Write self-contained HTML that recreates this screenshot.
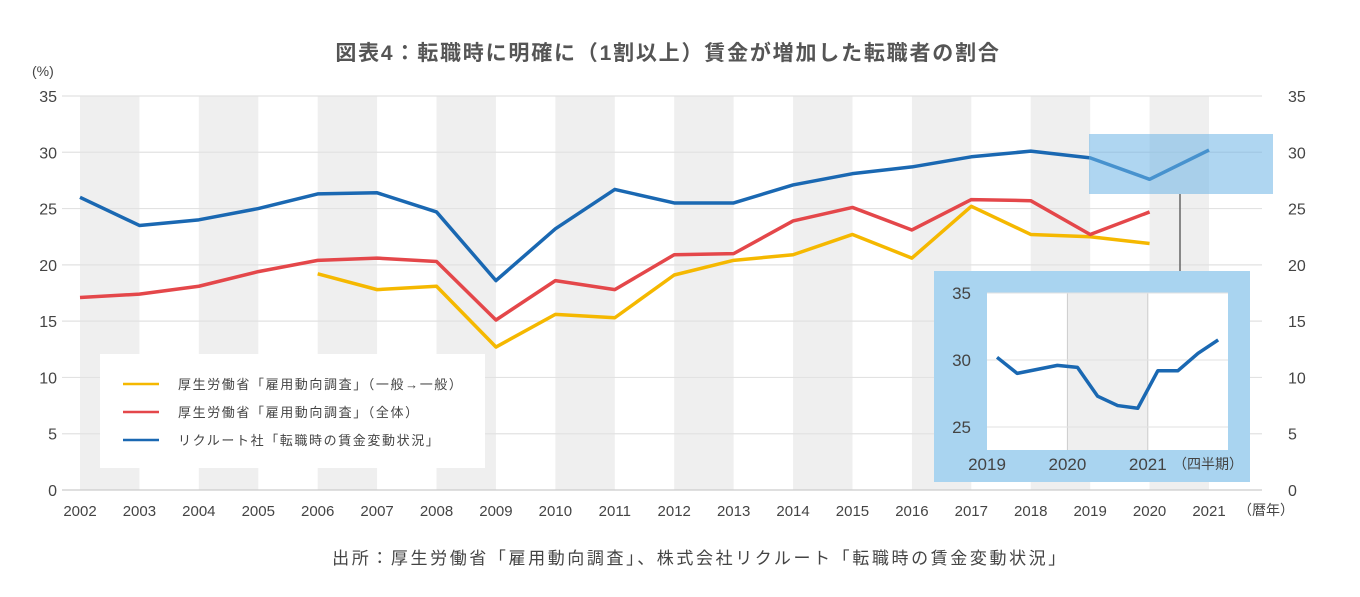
<!DOCTYPE html>
<html><head><meta charset="utf-8">
<style>
html,body{margin:0;padding:0;background:#fff;}
svg{display:block;font-family:"Liberation Sans","Noto Sans CJK JP",sans-serif;}
</style></head>
<body>
<svg id="chart" width="1360" height="597" viewBox="0 0 1360 597" xmlns="http://www.w3.org/2000/svg">
<g id="bg"></g>
<g id="grid"></g>
<g id="lines"></g>
<g id="axes"></g>
<g id="inset"></g>
<text x="668" y="60" text-anchor="middle" font-size="21" font-weight="bold" fill="#555" letter-spacing="1.8">図表4：転職時に明確に（1割以上）賃金が増加した転職者の割合</text>
<text x="32" y="76" font-size="14" fill="#444">(%)</text>
<text x="1238" y="515" font-size="14" fill="#444">（暦年）</text>
<text x="700" y="564" text-anchor="middle" font-size="17" fill="#444" letter-spacing="2.6">出所：厚生労働省「雇用動向調査」、株式会社リクルート「転職時の賃金変動状況」</text>
<g>
<rect x="100" y="354" width="385" height="114" fill="#fff"/>
<line x1="123" x2="159" y1="384" y2="384" stroke="#f5b800" stroke-width="2.5"/>
<text x="178" y="389" font-size="13" fill="#444" letter-spacing="1.6">厚生労働省「雇用動向調査」（一般→一般）</text>
<line x1="123" x2="159" y1="412" y2="412" stroke="#e4474a" stroke-width="2.5"/>
<text x="178" y="417" font-size="13" fill="#444" letter-spacing="1.6">厚生労働省「雇用動向調査」（全体）</text>
<line x1="123" x2="159" y1="440" y2="440" stroke="#1a68b2" stroke-width="2.5"/>
<text x="178" y="445" font-size="13" fill="#444" letter-spacing="1.6">リクルート社「転職時の賃金変動状況」</text>
</g>
</svg>
<script>
const years = [2002,2003,2004,2005,2006,2007,2008,2009,2010,2011,2012,2013,2014,2015,2016,2017,2018,2019,2020,2021];
const recruitValues = [26.0,23.5,24.0,25.0,26.3,26.4,24.7,18.6,23.2,26.7,25.5,25.5,27.1,28.1,28.7,29.6,30.1,29.5,27.6,30.2];
const allValues = [17.1,17.4,18.1,19.4,20.4,20.6,20.3,15.1,18.6,17.8,20.9,21.0,23.9,25.1,23.1,25.8,25.7,22.7,24.7,null];
const generalValues = [null,null,null,null,19.2,17.8,18.1,12.7,15.6,15.3,19.1,20.4,20.9,22.7,20.6,25.2,22.7,22.5,21.9,null];
const yTicks = [0,5,10,15,20,25,30,35];
const insetValues = [30.2,29.0,29.3,29.6,29.45,27.3,26.6,26.4,29.2,29.2,30.5,31.5];
const insetYTicks = [25,30,35];
const insetYearLabels = ["2019","2020","2021"];

const NS="http://www.w3.org/2000/svg";
function mk(tag,attrs,parent,text){const e=document.createElementNS(NS,tag);for(const k in attrs)e.setAttribute(k,attrs[k]);if(text!=null)e.textContent=text;parent.appendChild(e);return e;}
const X0=80,X1=1209,Y0=490,Y1=96;
const xs=i=>X0+(X1-X0)*i/(years.length-1);
const ys=v=>Y0-(Y0-Y1)*v/35;
const bg=document.getElementById('bg'),grid=document.getElementById('grid'),lines=document.getElementById('lines'),axes=document.getElementById('axes'),inset=document.getElementById('inset');
for(let i=0;i<years.length-1;i+=2){
  const r=mk('rect',{x:xs(i),y:Y1,width:xs(i+1)-xs(i),height:Y0-Y1,fill:'#efefef'},bg);
  
  
}
yTicks.forEach(t=>{
  const l=mk('line',{x1:62,x2:1262,y1:ys(t),y2:ys(t),stroke:t===0?'#ccc':'#e2e2e2','stroke-width':1.2},grid);
  
  
  const a=mk('text',{x:57,y:ys(t)+6,'text-anchor':'end','font-size':16,fill:'#444'},axes,String(t));
  
  
  const b=mk('text',{x:1288,y:ys(t)+6,'text-anchor':'start','font-size':16,fill:'#444'},axes,String(t));
  
  
});
years.forEach((y,i)=>{
  const t=mk('text',{x:xs(i),y:516,'text-anchor':'middle','font-size':15,fill:'#444'},axes,String(y));
  
  
});
function series(vals,color,name){
  const pts=[];vals.forEach((v,i)=>{if(v!=null)pts.push(xs(i)+','+ys(v));});
  const p=mk('polyline',{points:pts.join(' '),fill:'none',stroke:color,'stroke-width':3.5,'stroke-linejoin':'round'},lines);
  
  
}
series(generalValues,'#f5b800','line-general');
series(allValues,'#e4474a','line-all');
series(recruitValues,'#1a68b2','line-recruit');
const cr=mk('rect',{x:1089,y:134,width:184,height:60,fill:'rgba(110,180,230,0.55)'},inset);


const cl=mk('line',{x1:1180,x2:1180,y1:194,y2:272,stroke:'#666','stroke-width':1.5},inset);


const IX0=987,IX1=1228,IYT=293,IYB=450;
const iy=v=>360-(v-30)*13.4;
const ix=q=>IX0+q*20.1;
const ib=mk('rect',{x:934,y:271,width:316,height:211,fill:'#a9d4f0'},inset);


const ip=mk('rect',{x:IX0,y:IYT,width:IX1-IX0,height:IYB-IYT,fill:'#fff'},inset);


const ig=mk('rect',{x:ix(4),y:IYT,width:ix(8)-ix(4),height:IYB-IYT,fill:'#efefef'},inset);


[4,8].forEach(q=>{const l=mk('line',{x1:ix(q),x2:ix(q),y1:IYT,y2:IYB,stroke:'#ccc'},inset);
  
  });
insetYTicks.forEach(t=>{
  const l=mk('line',{x1:IX0,x2:IX1,y1:iy(t),y2:iy(t),stroke:'#e2e2e2'},inset);
  
  
  const a=mk('text',{x:971,y:iy(t)+6,'text-anchor':'end','font-size':17,fill:'#444'},inset,String(t));
  
  
});
insetYearLabels.forEach((s,k)=>{
  const t=mk('text',{x:ix(k*4),y:470,'text-anchor':'middle','font-size':17,fill:'#444'},inset,s);
  
  
});
const iq=mk('text',{x:1173,y:469,'font-size':14,fill:'#444'},inset,'（四半期）');


const ipts=insetValues.map((v,i)=>ix(i+0.5)+','+iy(v)).join(' ');
const il=mk('polyline',{points:ipts,fill:'none',stroke:'#1a68b2','stroke-width':3.5,'stroke-linejoin':'round'},inset);


</script>
</body></html>
